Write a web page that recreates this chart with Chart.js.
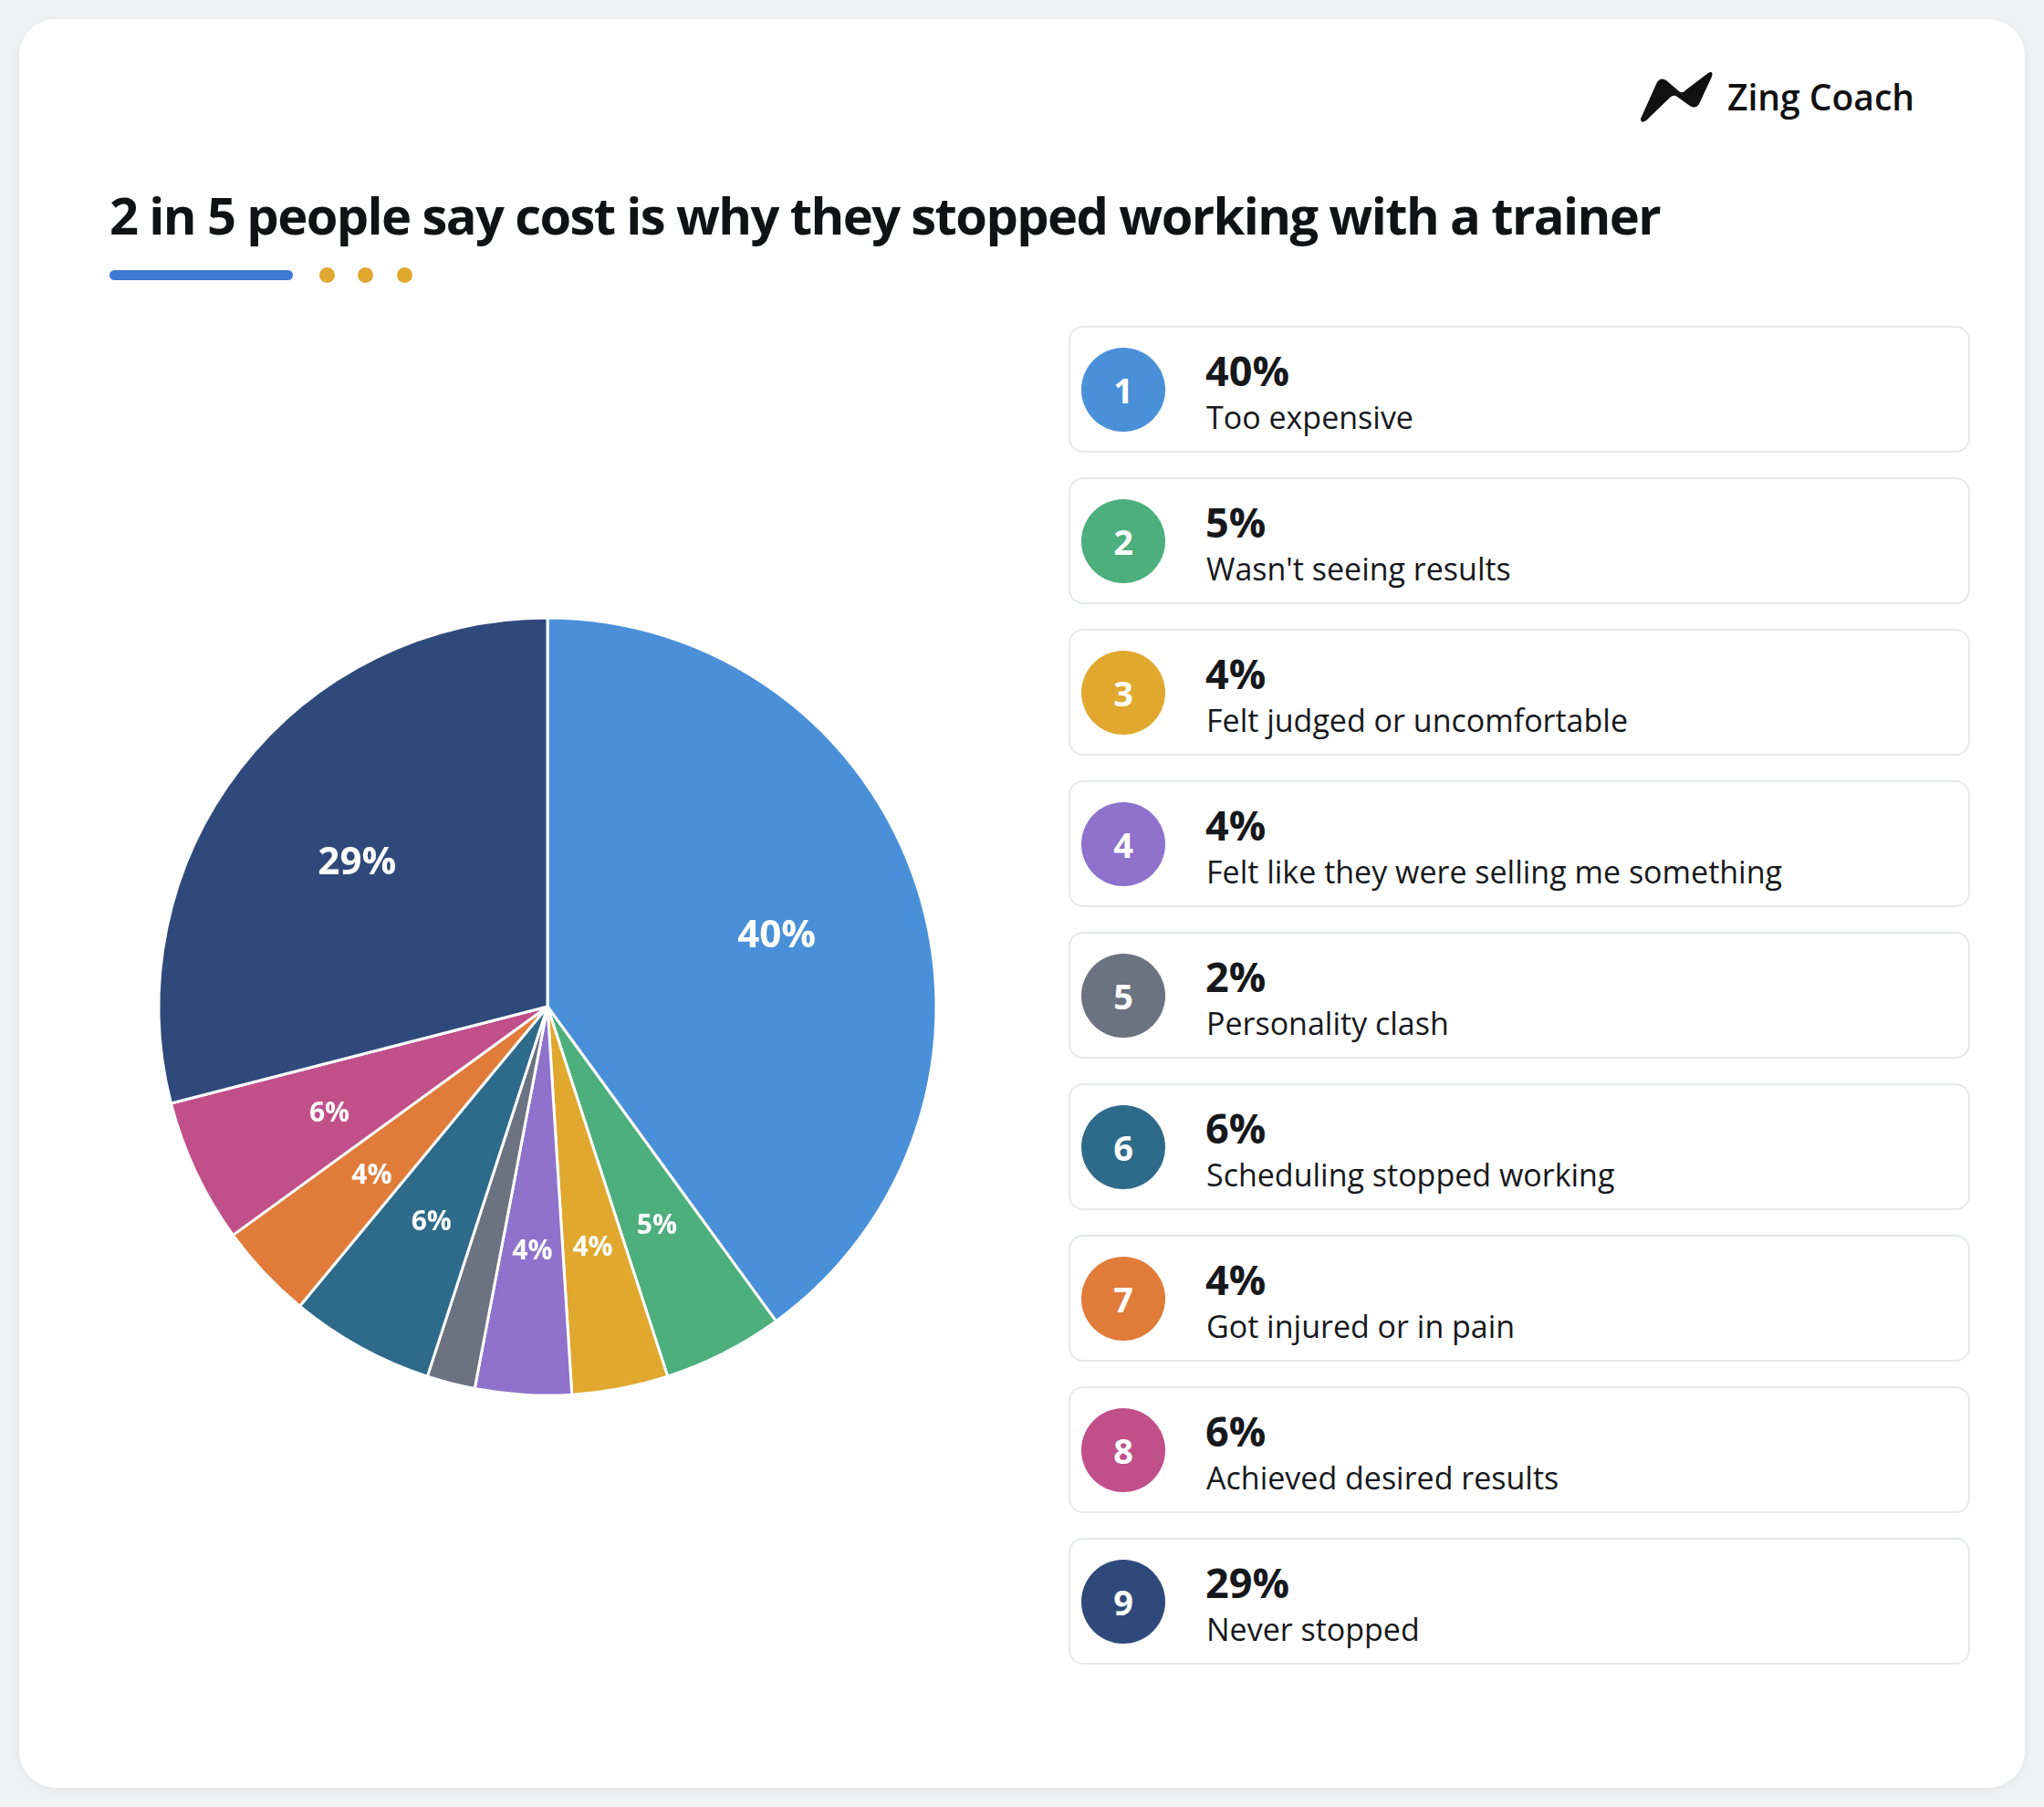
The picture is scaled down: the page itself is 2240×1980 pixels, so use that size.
<!DOCTYPE html>
<html>
<head>
<meta charset="utf-8">
<script src="https://cdn.jsdelivr.net/npm/chart.js@4.4.1/dist/chart.umd.min.js"></script>
<style>
    html, body { margin: 0; padding: 0; }
    body {
        width: 2240px; height: 1980px; position: relative;
        background: #eff1f3;
        font-family: "Open Sans", "Noto Sans", sans-serif;
        color: #16181b;
        overflow: hidden;
    }
    .card {
        position: absolute; left: 21px; top: 21px; width: 2198px; height: 1938px;
        background: #fff; border-radius: 40px;
        box-shadow: 0 2px 10px rgba(0,0,0,0.06);
    }
    .logo { position: absolute; left: 1796px; top: 76px; height: 60px; }
    .logo svg { position: absolute; left: 0; top: 0; }
    .logo span {
        position: absolute; left: 97px; top: 2px; white-space: nowrap;
        font-size: 39px; font-weight: 600; line-height: 56px; color: #111;
    }
    h1 {
        position: absolute; left: 120px; top: 200px; margin: 0;
        font-size: 56px; font-weight: 700; line-height: 70px; white-space: nowrap;
        letter-spacing: -1.6px; color: #111214;
    }
    .bar { position: absolute; left: 120px; top: 296px; width: 201px; height: 11px; border-radius: 6px; background: #3d7ad6; }
    .dot { position: absolute; top: 293px; width: 17px; height: 17px; border-radius: 50%; background: #e0a82e; }
    #pieWrap { position: absolute; left: 150px; top: 653px; width: 900px; height: 900px; }
    .item {
        position: absolute; left: 1171px; width: 984px; height: 135px;
        border: 2px solid #e6e8ea; border-radius: 16px; background: #fff;
    }
    .num {
        position: absolute; left: 12px; top: 22px; width: 92px; height: 92px; border-radius: 50%;
        color: #fff; font-weight: 700; font-size: 38px; line-height: 92px; text-align: center;
    }
    .pct { position: absolute; left: 148px; top: 22px; font-size: 45px; font-weight: 700; line-height: 50px; }
    .lbl { position: absolute; left: 149px; top: 77px; font-size: 34px; font-weight: 400; line-height: 42px; white-space: nowrap; }
</style>
</head>
<body>
<div class="card"></div>

<div class="logo">
    <svg width="84" height="60" viewBox="0 0 84 60">
        <path d="M2 54 L20 14 Q24 8 30 12 L44 24 Q48 27 51 23 L76 4 Q82 1 80 8 L66 38 Q62 44 56 40 L42 30 Q38 27 34 31 L8 56 Q2 60 2 54 Z" fill="#111"/>
    </svg>
    <span>Zing Coach</span>
</div>

<h1>2 in 5 people say cost is why they stopped working with a trainer</h1>
<div class="bar"></div>
<div class="dot" style="left:350px"></div>
<div class="dot" style="left:392px"></div>
<div class="dot" style="left:435px"></div>

<div id="pieWrap"><canvas id="pieChart" width="900" height="900"></canvas></div>
<div id="legend"></div>

<script>
// Survey: why people stopped working with a trainer
const reasons = [
    'Too expensive',
    "Wasn't seeing results",
    'Felt judged or uncomfortable',
    'Felt like they were selling me something',
    'Personality clash',
    'Scheduling stopped working',
    'Got injured or in pain',
    'Achieved desired results',
    'Never stopped'
];
const shares = [40, 5, 4, 4, 2, 6, 4, 6, 29];
const colors = ['#4a90d9', '#4caf7d', '#e0a82e', '#8e72cc', '#6b7280', '#2e6a8a', '#e07b39', '#c04f8a', '#2f4a7a'];

// Legend cards
let html = '';
reasons.forEach((r, i) => {
    html += `
        <div class="item" style="top:${357 + i * 166}px">
            <div class="num" style="background:${colors[i]}">${i + 1}</div>
            <div class="pct">${shares[i]}%</div>
            <div class="lbl">${r}</div>
        </div>
    `;
});
document.getElementById('legend').innerHTML = html;

// Percent labels inside the slices
const sliceLabels = {
    id: 'sliceLabels',
    afterDatasetsDraw(chart) {
        const ctx = chart.ctx;
        const meta = chart.getDatasetMeta(0);
        meta.data.forEach((arc, i) => {
            const v = shares[i];
            if (v < 3) return;
            const mid = (arc.startAngle + arc.endAngle) / 2;
            const r = arc.outerRadius * 0.62;
            const x = arc.x + Math.cos(mid) * r;
            const y = arc.y + Math.sin(mid) * r + 5;
            ctx.save();
            ctx.fillStyle = '#fff';
            ctx.font = (v >= 20 ? '700 42px' : '700 30px') + ' "Open Sans", sans-serif';
            ctx.textAlign = 'center';
            ctx.textBaseline = 'middle';
            ctx.fillText(v + '%', x, y);
            ctx.restore();
        });
    }
};

new Chart(document.getElementById('pieChart'), {
    type: 'pie',
    data: {
        labels: reasons,
        datasets: [{
            data: shares,
            backgroundColor: colors,
            borderColor: '#ffffff',
            borderWidth: 3
        }]
    },
    options: {
        responsive: false,
        animation: false,
        radius: 426,
        layout: { padding: 0 },
        plugins: {
            legend: { display: false },
            tooltip: { enabled: false }
        }
    },
    plugins: [sliceLabels]
});
</script>
</body>
</html>
